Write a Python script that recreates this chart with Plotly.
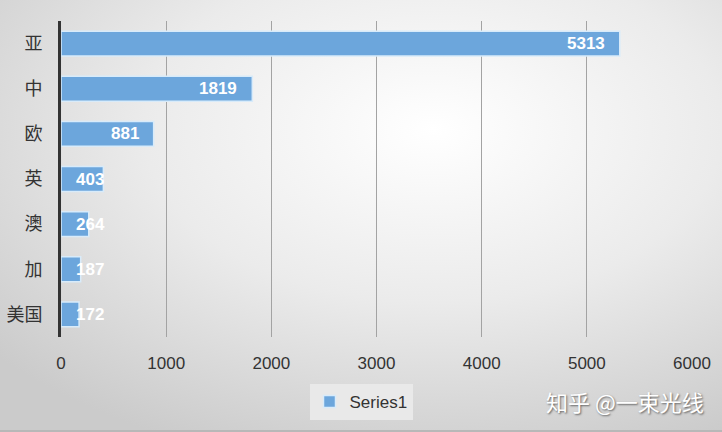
import base64
import plotly.graph_objects as go

categories = ["亚", "中", "欧", "英", "澳", "加", "美国"]
values = [5313, 1819, 881, 403, 264, 187, 172]
x_ticks = [0, 1000, 2000, 3000, 4000, 5000, 6000]
series_name = "Series1"
watermark = "知乎 @一束光线"

W, H = 722, 432
ML, MR, MT, MB = 61, 30, 21, 95
PW, PH = W - ML - MR, H - MT - MB

svg = f'''<svg xmlns="http://www.w3.org/2000/svg" width="{W}" height="{H}" viewBox="0 0 {W} {H}">
<defs><radialGradient id="g" cx="0.6" cy="0.3" r="0.8" gradientUnits="objectBoundingBox">
<stop offset="0" stop-color="#ffffff"/><stop offset="0.5" stop-color="#ebebeb"/><stop offset="1" stop-color="#cbcbcb"/>
</radialGradient></defs>
<rect width="{W}" height="{H}" fill="url(#g)"/>
<rect y="{H-2}" width="{W}" height="2" fill="#b8b8b8"/>
</svg>'''
bg_uri = "data:image/svg+xml;base64," + base64.b64encode(svg.encode()).decode()

fig = go.Figure()
fig.add_trace(go.Bar(
    y=categories, x=values, orientation="h", name=series_name,
    marker=dict(color="#6ca6dc", line=dict(color="#d8ebfa", width=1.5)),
    showlegend=True,
))

label_font = dict(family="Liberation Sans, Arial", size=17, color="white", weight="bold")
annotations = []
for c, v in zip(categories, values):
    if v >= 500:
        annotations.append(dict(x=v, y=c, xref="x", yref="y", text=str(v), showarrow=False,
                                xanchor="right", xshift=-13, font=label_font))
    else:
        annotations.append(dict(x=0, y=c, xref="x", yref="y", text=str(v), showarrow=False,
                                xanchor="left", xshift=13, font=label_font))
annotations.append(dict(x=(706 - ML) / PW, y=1 - (401 - MT) / PH, xref="paper", yref="paper",
                        text=watermark, showarrow=False, xanchor="right", yanchor="middle",
                        font=dict(family="Noto Sans CJK SC", size=22, color="white",
                                  shadow="1px 1px 2px rgba(0,0,0,0.55)")))

fig.update_layout(
    width=W, height=H,
    margin=dict(l=ML, r=MR, t=MT, b=MB, pad=0, autoexpand=False),
    paper_bgcolor="rgba(0,0,0,0)", plot_bgcolor="rgba(0,0,0,0)",
    bargap=0.45,
    images=[dict(source=bg_uri, xref="paper", yref="paper", x=-ML / PW, y=1 + MT / PH,
                 sizex=W / PW, sizey=H / PH, sizing="stretch", xanchor="left", yanchor="top",
                 layer="below")],
    xaxis=dict(range=[0, 6000], tickvals=x_ticks, ticktext=[str(t) for t in x_ticks],
               showgrid=True, gridcolor="#a3a3a3", gridwidth=1, zeroline=False,
               showline=False, ticks="", ticklabelstandoff=14, automargin=False,
               tickfont=dict(family="Liberation Sans, Arial", size=17, color="#333333")),
    yaxis=dict(categoryorder="array", categoryarray=categories, autorange="reversed",
               showline=True, linecolor="#333333", linewidth=3, showgrid=False, ticks="",
               ticklabelstandoff=12, automargin=False,
               tickfont=dict(family="Noto Sans CJK SC", size=18, color="#333333")),
    legend=dict(xref="container", yref="container", x=0.5, y=(H - 402) / H,
                xanchor="center", yanchor="middle", orientation="h",
                bgcolor="#e9e9e9", borderwidth=0,
                font=dict(family="Liberation Sans, Arial", size=17, color="#333333"),
                itemwidth=30),
    annotations=annotations,
)

fig.write_html("out.html", config={"displayModeBar": False},
               post_script="document.body.style.margin='0';")
